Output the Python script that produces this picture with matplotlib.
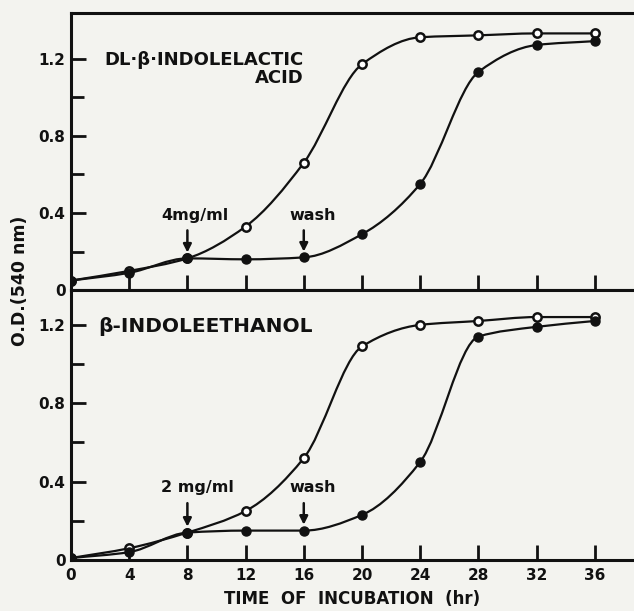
import numpy as np
import matplotlib
matplotlib.use("Agg")
import matplotlib.pyplot as plt
from matplotlib.path import Path
from matplotlib.patches import PathPatch

# incubation time (hr)
hours = [0, 4, 8, 12, 16, 20, 24, 28, 32, 36]

# DL-beta-indolelactic acid panel: OD at 540 nm
ila_open = [0.05, 0.10, 0.165, 0.33, 0.66, 1.17, 1.31, 1.32, 1.33, 1.33]
ila_filled = [0.05, 0.09, 0.165, 0.16, 0.17, 0.29, 0.55, 1.13, 1.27, 1.29]

# beta-indoleethanol panel
ieth_open = [0.01, 0.06, 0.14, 0.25, 0.52, 1.09, 1.20, 1.22, 1.24, 1.24]
ieth_filled = [0.01, 0.04, 0.14, 0.15, 0.15, 0.23, 0.50, 1.14, 1.19, 1.22]

y_ticks = [0, 0.4, 0.8, 1.2]
y_ticklabels = ["0", "0.4", "0.8", "1.2"]
x_ticks = [0, 4, 8, 12, 16, 20, 24, 28, 32, 36]

paper = "#f3f3ef"
ink = "#111111"


def smooth_line(ax, xs, ys, lw=1.6):
    # monotone bezier path through the measured points (no overshoot)
    x = np.asarray(xs, float)
    y = np.asarray(ys, float)
    h = np.diff(x)
    d = np.diff(y) / h
    m = np.zeros_like(y)
    m[0], m[-1] = d[0], d[-1]
    for k in range(1, len(y) - 1):
        if d[k - 1] * d[k] <= 0:
            m[k] = 0.0
        else:
            m[k] = 2.0 / (1.0 / d[k - 1] + 1.0 / d[k])
    verts = [(x[0], y[0])]
    codes = [Path.MOVETO]
    for i in range(len(x) - 1):
        verts += [(x[i] + h[i] / 3, y[i] + m[i] * h[i] / 3),
                  (x[i + 1] - h[i] / 3, y[i + 1] - m[i + 1] * h[i] / 3),
                  (x[i + 1], y[i + 1])]
        codes += [Path.CURVE4] * 3
    ax.add_patch(PathPatch(Path(verts, codes), fc="none", ec=ink, lw=lw,
                           capstyle="round", zorder=3))


def panel(ax, top, open_y, filled_y, label_kw, dose, dose_x, dose_y):
    smooth_line(ax, hours, open_y)
    smooth_line(ax, hours, filled_y)
    ax.plot(hours, open_y, ls="none", marker="o", ms=6, mfc="white",
            mec=ink, mew=1.8, zorder=4)
    ax.plot(hours, filled_y, ls="none", marker="o", ms=6.5, mfc=ink,
            mec=ink, zorder=5)
    ax.set_xlim(0, 38.7)
    ax.set_ylim(0, top)
    ax.set_facecolor(paper)
    for s in ["left", "bottom", "top"]:
        ax.spines[s].set_linewidth(2.2)
        ax.spines[s].set_color(ink)
    ax.spines["right"].set_visible(False)
    ax.set_yticks(y_ticks)
    ax.set_yticks([0.2, 0.6, 1.0], minor=True)
    ax.set_yticklabels(y_ticklabels, fontsize=11, fontweight="bold")
    ax.set_xticks(x_ticks)
    ax.tick_params(axis="both", which="both", direction="in", width=2,
                   color=ink, labelcolor=ink)
    ax.tick_params(axis="y", which="major", length=11, pad=4)
    ax.tick_params(axis="y", which="minor", length=9)
    ax.tick_params(axis="x", length=11, pad=6)
    ax.text(**label_kw, transform=ax.transData, fontweight="bold", color=ink)
    # dose and wash arrows
    for x, txt, yv in [(8, dose, dose_y), (16, "wash", dose_y)]:
        idx = hours.index(x)
        ax.annotate("", xy=(x, filled_y[idx] + 0.03), xytext=(x, yv - 0.04),
                    arrowprops=dict(arrowstyle="-|>", color=ink, lw=1.8,
                                    mutation_scale=12, shrinkA=0, shrinkB=0))
        ax.text(x + (dose_x if txt == dose else 0.6), yv, txt, ha="center",
                va="bottom", fontsize=11.5, fontweight="bold", color=ink)


fig = plt.figure(figsize=(6.34, 6.11), dpi=100, facecolor=paper)
ax1 = fig.add_axes([0.112, 0.525, 0.888, 0.4535])
ax2 = fig.add_axes([0.112, 0.0835, 0.888, 0.4415])

panel(ax1, 1.435, ila_open, ila_filled,
      dict(x=16.0, y=1.24, s="DL\u00b7\u03b2\u00b7INDOLELACTIC\nACID", ha="right",
           va="top", fontsize=13, linespacing=1.0, multialignment="right"),
      "4mg/ml", 0.5, 0.35)
ax1.tick_params(axis="x", labelbottom=False)

panel(ax2, 1.377, ieth_open, ieth_filled,
      dict(x=1.9, y=1.19, s="\u03b2-INDOLEETHANOL", ha="left", va="center",
           fontsize=14.5),
      "2 mg/ml", 0.7, 0.33)
ax2.set_xticklabels([str(h) for h in x_ticks], fontsize=11, fontweight="bold")
ax2.set_xlabel("TIME  OF  INCUBATION  (hr)", fontsize=12, fontweight="bold",
               color=ink, labelpad=5)

fig.text(0.032, 0.54, "O.D.(540 nm)", rotation=90, ha="center", va="center",
         fontsize=12.5, fontweight="bold", color=ink)

fig.savefig("out.png", dpi=100, facecolor=paper)
